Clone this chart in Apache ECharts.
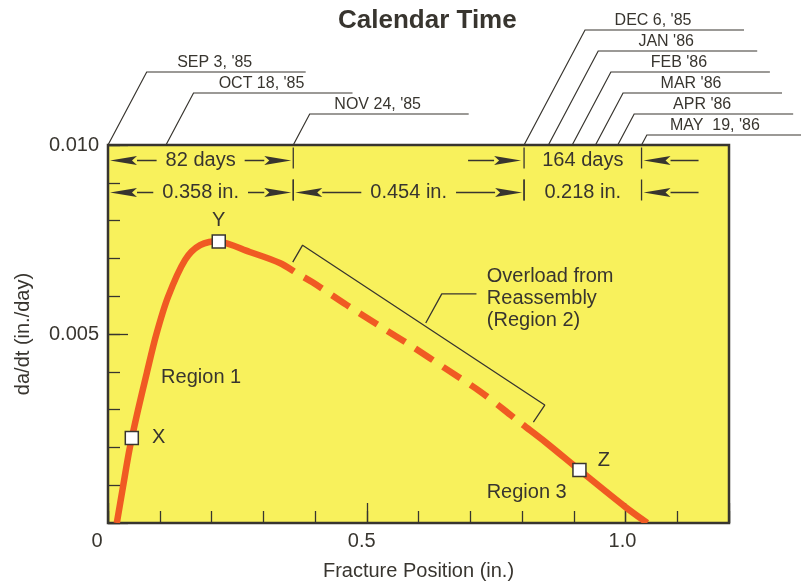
<!DOCTYPE html>
<html><head><meta charset="utf-8">
<script src="https://cdn.jsdelivr.net/npm/echarts@6/dist/echarts.min.js"></script>
<style>html,body{margin:0;padding:0;background:#fff}#c{width:801px;height:586px}</style>
</head><body><div id="c"></div>
<script>
// ---------- data ----------
const curveX = [0.017,0.029,0.042,0.058,0.075,0.093,0.116,0.149,0.178,0.214,0.274,0.332,0.365,0.396,0.461,0.525,0.589,0.654,0.718,0.763,0.795,0.847,0.911,1.0,1.042];
const curveY = [0,0.00096,0.00198,0.00299,0.00397,0.00497,0.00598,0.00696,0.00735,0.00745,0.00717,0.00688,0.00661,0.00636,0.00577,0.00521,0.00466,0.00407,0.00349,0.00302,0.00267,0.00212,0.0014,0.00042,0];
const regionBreaks = [0.36, 0.79];   // dashed (Region 2) between these positions

const pointNames = ['X','Y','Z'];
const pointX = [0.046,0.214,0.911];
const pointY = [0.00225,0.00745,0.0014];

const dateLabels = ["SEP 3, '85","OCT 18, '85","NOV 24, '85","DEC 6, '85","JAN '86","FEB '86","MAR '86","APR '86","MAY  19, '86"];
const dateX = [0,0.112,0.358,0.804,0.851,0.897,0.942,0.985,1.031];

const dayLabels = ['82 days','164 days'];
const daySpans = [[0,0.358],[0.804,1.031]];
const inchLabels = ['0.358 in.','0.454 in.','0.218 in.'];
const inchSpans = [[0,0.358],[0.358,0.804],[0.804,1.031]];

const regionLabels = ['Region 1','Region 3'];
const regionX = [0.18,0.809];
const regionY = [0.00386,0.00082];

const noteText = 'Overload from\nReassembly\n(Region 2)';
const noteX = 0.732, noteY = 0.00593;
const bracket = [[0.357,0.0069],[0.376,0.00735],[0.844,0.00312],[0.822,0.00267]];
const leader = [[0.614,0.00529],[0.645,0.00606],[0.712,0.00606]];

const xTickLabels = {0:'0',0.5:'0.5',1:'1.0'};
const yTickLabels = {0.005:'0.005',0.01:'0.010'};

// ---------- style ----------
const FONT = '"Liberation Sans", Arial, Helvetica, sans-serif';
const INK = '#38352f';
const CURVE = '#f05a23';
const YELLOW = '#f8f15c';
const leaderLevel = [3,2,1,5,4,3,2,1,0];
const mctx = document.createElement('canvas').getContext('2d');
function tw(t,f){ mctx.font=f; return mctx.measureText(t).width; }

function arrow(ch, tipX, fromX, y){
  const dir = Math.sign(tipX-fromX), hl = 27, hw = 4.5;
  ch.push({type:'line', shape:{x1:fromX,y1:y,x2:tipX-dir*hl,y2:y}, style:{stroke:INK,lineWidth:1.5}});
  ch.push({type:'polygon', shape:{points:[[tipX,y],[tipX-dir*hl,y-hw],[tipX-dir*(hl-5),y],[tipX-dir*hl,y+hw]]}, style:{fill:INK}});
}

function renderTop(params, api){
  const top = api.coord([0,0.01])[1];
  const ch = [];
  dateX.forEach((x,i)=>{
    const ax = api.coord([x,0.01])[0];
    const dy = 10 + 21*leaderLevel[i];
    const ex = ax + 0.53*dy, ey = top - dy;
    ch.push({type:'polyline', shape:{points:[[ax,top],[ex,ey],[ex+159,ey]]}, style:{stroke:INK,lineWidth:1.2,fill:'none'}});
    ch.push({type:'text', x:ex+68, y:ey-9.5, style:{text:dateLabels[i], font:'16px '+FONT, fill:INK, align:'center', verticalAlign:'middle'}});
  });
  const dimFont = '20px '+FONT;
  function row(labels, spans, y){
    let prevEnd = null, prevInside = false;
    labels.forEach((t,i)=>{
      const x1 = api.coord([spans[i][0],0.01])[0], x2 = api.coord([spans[i][1],0.01])[0];
      const mid = (x1+x2)/2, w = tw(t,dimFont);
      ch.push({type:'text', x:mid, y:y, style:{text:t, font:dimFont, fill:INK, align:'center', verticalAlign:'middle'}});
      [x1,x2].forEach(bx=>ch.push({type:'line', shape:{x1:bx,y1:y-13,x2:bx,y2:y+8}, style:{stroke:INK,lineWidth:1.3}}));
      const inside = (x2-x1) > w + 70;
      if (inside){
        arrow(ch, x1+2, mid-w/2-9, y);
        arrow(ch, x2-2, mid+w/2+9, y);
      } else {
        if (!(prevEnd===spans[i][0] && prevInside)) arrow(ch, x1-3, x1-56, y);
        arrow(ch, x2+2, x2+57, y);
      }
      prevEnd = spans[i][1]; prevInside = inside;
    });
  }
  row(dayLabels, daySpans, top+15.5);
  row(inchLabels, inchSpans, top+47.5);
  return {type:'group', children:ch};
}

function renderCurve(params, api){
  const pts = curveX.map((x,i)=>api.coord([x, curveY[i]]));
  function lenTo(xb){
    let L = 0;
    for (let i=1;i<pts.length;i++){
      const a=pts[i-1], b=pts[i], s=Math.hypot(b[0]-a[0], b[1]-a[1]);
      if (b[0] <= xb) L += s; else { L += s*(xb-a[0])/(b[0]-a[0]); break; }
    }
    return L;
  }
  const L1 = lenTo(api.coord([regionBreaks[0],0])[0]);
  const L2 = lenTo(api.coord([regionBreaks[1],0])[0]);
  const dash = 21, gap = 12;
  const arr = [L1]; let pos = L1;
  while (pos + gap + dash <= L2 + 3){ arr.push(gap, dash); pos += gap + dash; }
  arr.push(gap, 100000, 0);
  if (arr.length % 2) arr.push(0);
  return {type:'polyline', shape:{points:pts, smooth:0.3}, style:{stroke:CURVE, lineWidth:6.5, fill:'none', lineDash:arr, lineCap:'butt', lineJoin:'round'}};
}

function renderText(texts, opts){
  return function(params, api){
    const p = api.coord([api.value(0), api.value(1)]);
    return {type:'text', x:p[0], y:p[1], style:Object.assign({text:texts[params.dataIndex], font:'20px '+FONT, fill:INK, align:'center', verticalAlign:'middle'}, opts||{})};
  };
}

const chart = echarts.init(document.getElementById('c'), null, {renderer:'canvas'});
const axisCommon = {type:'value', axisLine:{show:false}, splitLine:{show:false}};
chart.setOption({
  animation:false,
  backgroundColor:'#ffffff',
  title:{text:'Calendar Time', left:338, top:8, padding:0, textStyle:{fontFamily:FONT, fontWeight:'bold', fontSize:26, color:INK}},
  grid:{left:108, top:145, right:72, bottom:63, show:true, backgroundColor:YELLOW, borderColor:INK, borderWidth:2.5, containLabel:false, outerBoundsMode:'none'},
  xAxis:[
    Object.assign({}, axisCommon, {min:0, max:1.2, interval:0.1, axisTick:{inside:true, length:12, lineStyle:{color:INK,width:1.3}}, axisLabel:{show:false}}),
    Object.assign({}, axisCommon, {min:0, max:1.2, interval:0.5, position:'bottom',
      axisTick:{inside:true, length:20, lineStyle:{color:INK,width:1.3}},
      axisLabel:{margin:8, fontFamily:FONT, fontSize:20, color:INK,
        formatter:v=>{const s=xTickLabels[v]; if(s===undefined) return ''; const pad = v===0?22:(v===0.5?10:6); return '{a|'+s+'}{p'+pad+'|}';},
        rich:{a:{fontFamily:FONT,fontSize:20,color:INK}, p22:{width:22}, p10:{width:10}, p6:{width:6}}},
      name:'Fracture Position (in.)', nameLocation:'middle', nameGap:38,
      nameTextStyle:{fontFamily:FONT, fontSize:20, color:INK}})
  ],
  yAxis:[
    Object.assign({}, axisCommon, {min:0, max:0.01, interval:0.001, axisTick:{inside:true, length:12, lineStyle:{color:INK,width:1.3}}, axisLabel:{show:false}}),
    Object.assign({}, axisCommon, {min:0, max:0.01, interval:0.005, position:'left',
      axisTick:{inside:true, length:20, lineStyle:{color:INK,width:1.3}},
      axisLabel:{margin:9, fontFamily:FONT, fontSize:20, color:INK, formatter:v=>yTickLabels[v]||''},
      name:'da/dt (in./day)', nameLocation:'middle', nameGap:75,
      nameTextStyle:{fontFamily:FONT, fontSize:20, color:INK}})
  ],
  series:[
    {type:'custom', z:3, clip:true, data:[[0.5,0.005]], renderItem:renderCurve, silent:true},
    {type:'line', data:bracket, symbol:'none', lineStyle:{color:INK, width:1.3}, z:4},
    {type:'line', data:leader, symbol:'none', lineStyle:{color:INK, width:1.3}, z:4},
    {type:'scatter', z:6, symbol:'rect', symbolSize:13,
      itemStyle:{color:'#ffffff', borderColor:INK, borderWidth:1.5, opacity:1},
      data: pointX.map((x,i)=>({value:[x,pointY[i]], name:pointNames[i],
        label: i===0 ? {position:'right', distance:13} : (i===1 ? {position:'top', distance:4} : {position:'right', distance:11, offset:[0,-10]})})),
      label:{show:true, formatter:'{b}', fontFamily:FONT, fontSize:20, color:INK}},
    {type:'custom', z:5, clip:false, data:regionX.map((x,i)=>[x,regionY[i]]), renderItem:renderText(regionLabels)},
    {type:'custom', z:5, clip:false, data:[[noteX,noteY]], renderItem:renderText([noteText], {align:'left', lineHeight:22})},
    {type:'custom', z:5, clip:false, data:[[0,0]], renderItem:renderTop, silent:true}
  ]
});
</script></body></html>
